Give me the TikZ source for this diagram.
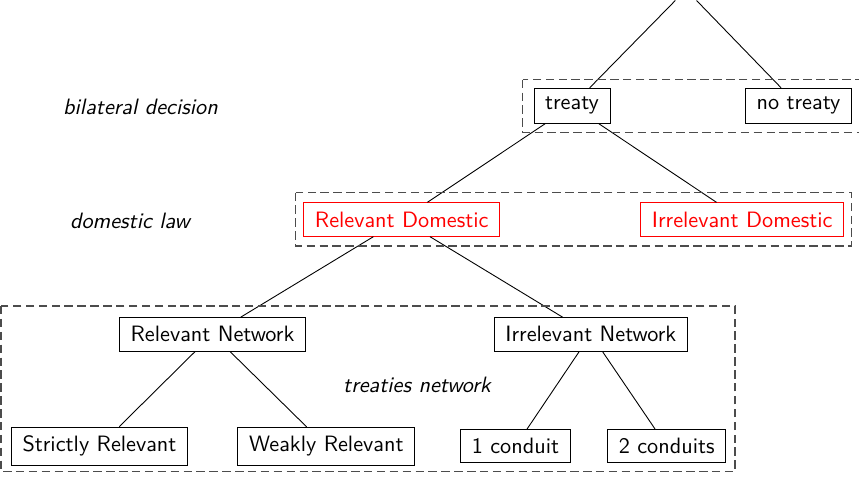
\documentclass[tikz,border=0pt]{standalone}
\tikzset{>=latex}
\colorlet{frame}{black!70}
\tikzset{
  box/.style={draw, inner xsep=5pt, inner ysep=4pt, font=\sffamily},
  redbox/.style={box, red},
  level/.style={font=\sffamily\itshape},
  group/.style={draw=frame, line width=0.5pt, dash pattern=on 3.8pt off 2pt}
}

\begin{document}
\begin{tikzpicture}[x=0.45pt,y=-0.45pt]
    \useasboundingbox (0,0) rectangle (859,476);
    % tree
    \node[minimum width=14pt, minimum height=9.4pt, inner sep=0pt] (root) at (686,-10.4) {};
    \node[box] (treaty) at (572,105.8) {treaty};
    \node[box] (notreaty) at (798.5,105.8) {no treaty};
    \node[redbox] (reldom) at (401.7,219.5) {Relevant Domestic};
    \node[redbox] (irrdom) at (742.2,219.5) {Irrelevant Domestic};
    \node[box] (relnet) at (212.5,334.3) {Relevant Network};
    \node[box] (irrnet) at (590.8,334.3) {Irrelevant Network};
    \node[box] (strict) at (99.5,446.2) {Strictly Relevant};
    \node[box] (weak) at (326.3,446.2) {Weakly Relevant};
    \node[box] (one) at (515.5,446.2) {1 conduit};
    \node[box] (two) at (666.7,446.2) {2 conduits};
    \draw (root) -- (treaty);
    \draw (root) -- (notreaty);
    \draw (treaty) -- (reldom);
    \draw (treaty) -- (irrdom);
    \draw (reldom) -- (relnet);
    \draw (reldom) -- (irrnet);
    \draw (relnet) -- (strict);
    \draw (relnet) -- (weak);
    \draw (irrnet) -- (one);
    \draw (irrnet) -- (two);
    % levels
    \draw[group] (522.7,79.7) rectangle (866,132.3);
    \draw[group] (295.7,192.5) rectangle (851.7,246);
    \draw[group] (1,306) rectangle (735,471.5);
    \node[level] (bilateral) at (140.5,107) {bilateral decision};
    \node[level] (domestic) at (130,220.5) {domestic law};
    \node[level] (network) at (417,384.5) {treaties network};
\end{tikzpicture}
\end{document}
